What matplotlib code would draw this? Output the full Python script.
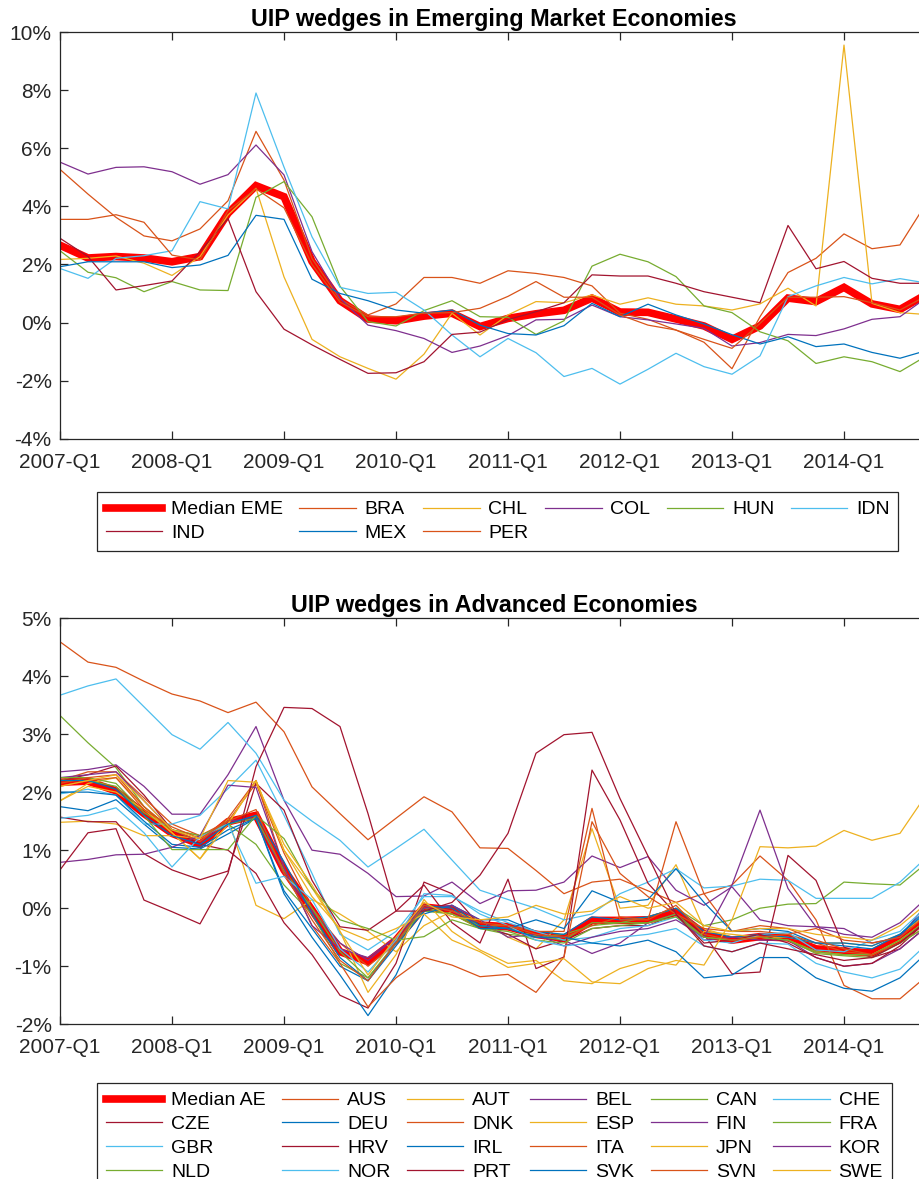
import numpy as np
import matplotlib as mpl
import matplotlib.pyplot as plt

mpl.rcParams.update({
    'font.family': ['Liberation Sans', 'DejaVu Sans'],
    'font.size': 14,
    'axes.linewidth': 0.9,
    'axes.edgecolor': '#262626',
    'xtick.color': '#262626',
    'ytick.color': '#262626',
})

# quarters 2007-Q1 ... 2014-Q4
xlabels = ['2007-Q1', '2008-Q1', '2009-Q1', '2010-Q1', '2011-Q1', '2012-Q1', '2013-Q1', '2014-Q1']

# ---- Emerging market economies (% per quarter) ----
median_eme = [2.66, 2.22, 2.27, 2.22, 2.09, 2.27, 3.76, 4.71, 4.33, 2.10, 0.75, 0.12, 0.06, 0.22, 0.32, -0.14,
              0.14, 0.30, 0.42, 0.84, 0.36, 0.35, 0.12, -0.12, -0.58, -0.12, 0.84, 0.72, 1.21, 0.64, 0.45, 1.00]
eme_names = ['BRA', 'CHL', 'COL', 'HUN', 'IDN', 'IND', 'MEX', 'PER']
BRA = [5.27, 4.42, 3.62, 2.98, 2.81, 3.22, 4.19, 6.58, 4.90, 2.20, 0.80, 0.26, 0.64, 1.55, 1.55, 1.35,
       1.78, 1.69, 1.55, 1.26, 0.32, 0.11, -0.26, -0.68, -1.59, 0.20, 1.72, 2.21, 3.05, 2.54, 2.67, 4.20]
CHL = [2.17, 2.21, 2.29, 2.04, 1.62, 2.27, 3.70, 4.62, 1.57, -0.58, -1.18, -1.58, -1.95, -1.09, 0.32, -0.43,
       0.26, 0.72, 0.68, 0.95, 0.63, 0.85, 0.63, 0.57, 0.43, 0.64, 1.18, 0.57, 9.55, 0.66, 0.34, 0.27]
COL = [5.52, 5.11, 5.34, 5.36, 5.19, 4.76, 5.09, 6.11, 5.08, 2.44, 0.83, -0.09, -0.28, -0.55, -1.03, -0.81,
       -0.45, 0.09, 0.11, 0.60, 0.20, 0.09, -0.05, -0.20, -0.81, -0.69, -0.41, -0.45, -0.22, 0.11, 0.20, 0.89]
HUN = [2.47, 1.73, 1.54, 1.06, 1.41, 1.12, 1.10, 4.31, 4.85, 3.64, 1.25, 0.03, -0.12, 0.41, 0.75, 0.20,
       0.18, -0.41, 0.06, 1.94, 2.35, 2.09, 1.58, 0.57, 0.34, -0.32, -0.63, -1.41, -1.18, -1.35, -1.69, -1.12]
IDN = [1.86, 1.52, 2.21, 2.30, 2.47, 4.16, 3.91, 7.90, 5.35, 2.95, 1.21, 1.00, 1.04, 0.43, -0.43, -1.18,
       -0.55, -1.04, -1.86, -1.58, -2.12, -1.61, -1.06, -1.52, -1.78, -1.15, 0.89, 1.26, 1.55, 1.33, 1.51, 1.35]
IND = [2.90, 2.27, 1.12, 1.27, 1.43, 2.44, 3.58, 1.06, -0.23, -0.77, -1.27, -1.75, -1.73, -1.35, -0.41, -0.33,
       0.10, 0.37, 0.68, 1.64, 1.60, 1.60, 1.35, 1.06, 0.87, 0.68, 3.34, 1.85, 2.10, 1.52, 1.35, 1.35]
MEX = [1.92, 2.09, 2.09, 2.09, 1.89, 1.98, 2.31, 3.69, 3.55, 1.49, 1.00, 0.75, 0.43, 0.32, 0.43, -0.09,
       -0.38, -0.43, -0.11, 0.66, 0.20, 0.63, 0.26, -0.05, -0.42, -0.74, -0.49, -0.83, -0.74, -1.03, -1.23, -0.95]
PER = [3.55, 3.55, 3.71, 3.45, 2.32, 2.15, 3.85, 4.60, 3.95, 2.00, 0.70, 0.20, 0.20, 0.32, 0.34, 0.49,
       0.90, 1.41, 0.87, 0.87, 0.26, -0.09, -0.26, -0.58, -0.89, -0.03, 0.87, 0.87, 0.89, 0.68, 0.43, 0.95]
eme_series = [BRA, CHL, COL, HUN, IDN, IND, MEX, PER]

# ---- Advanced economies ----
median_ae = [2.17, 2.19, 2.02, 1.63, 1.29, 1.10, 1.49, 1.60, 0.66, -0.03, -0.75, -0.92, -0.55, 0.02, -0.03, -0.29,
             -0.32, -0.45, -0.52, -0.21, -0.21, -0.20, -0.07, -0.44, -0.55, -0.49, -0.51, -0.70, -0.74, -0.77, -0.52, -0.16]
ae_names = ['AUS', 'AUT', 'BEL', 'CAN', 'CHE', 'CZE', 'DEU', 'DNK', 'ESP', 'FIN', 'FRA', 'GBR',
            'HRV', 'IRL', 'ITA', 'JPN', 'KOR', 'NLD', 'NOR', 'PRT', 'SVK', 'SVN', 'SWE']
AUS = [4.59, 4.24, 4.15, 3.91, 3.69, 3.57, 3.37, 3.55, 3.04, 2.09, 1.63, 1.18, 1.55, 1.92, 1.66, 1.04,
       1.03, 0.65, 0.25, 0.45, 0.50, 0.30, 0.10, 0.25, 0.40, 0.90, 0.48, -0.20, -1.33, -1.56, -1.56, -1.15]
AUT = [1.85, 2.15, 2.25, 1.75, 1.30, 0.85, 1.55, 0.05, -0.18, 0.15, -0.10, -0.40, -0.75, -0.30, -0.05, -0.20,
       -0.50, -0.70, -0.20, 1.37, 0.00, 0.05, 0.75, -0.35, -0.50, -0.50, -0.50, -0.60, -0.60, -0.65, -0.45, -0.10]
BEL = [2.35, 2.39, 2.47, 2.10, 1.62, 1.62, 2.30, 3.13, 1.86, 1.00, 0.93, 0.60, 0.20, 0.21, 0.45, 0.08,
       0.30, 0.31, 0.45, 0.90, 0.70, 0.89, 0.31, 0.05, 0.37, -0.20, -0.30, -0.32, -0.35, -0.60, -0.50, 0.10]
CAN = [3.32, 2.85, 2.42, 1.75, 1.35, 1.25, 1.45, 1.10, 0.40, -0.10, -0.95, -1.20, -0.60, -0.05, -0.10, -0.35,
       -0.45, -0.50, -0.45, -0.30, -0.25, -0.15, 0.00, -0.30, -0.20, 0.00, 0.07, 0.08, 0.45, 0.42, 0.40, 0.80]
CHE = [3.67, 3.83, 3.95, 3.47, 2.99, 2.74, 3.20, 2.67, 1.86, 1.50, 1.17, 0.71, 1.03, 1.36, 0.83, 0.31,
       0.15, 0.00, -0.20, -0.10, 0.25, 0.45, 0.68, 0.35, 0.38, 0.50, 0.48, 0.17, 0.17, 0.17, 0.45, 0.90]
CZE = [2.20, 2.30, 2.45, 1.95, 1.35, 1.10, 1.00, 0.60, -0.25, -0.80, -1.50, -1.72, -0.95, 0.45, 0.25, -0.30,
       -0.45, -0.70, -0.55, -0.35, -0.30, -0.30, -0.10, -0.45, -1.13, -1.10, 0.91, 0.48, -0.67, -0.85, -0.70, -0.30]
DEU = [1.75, 1.68, 1.87, 1.45, 1.05, 1.02, 1.28, 1.55, 0.30, -0.35, -1.00, -1.25, -0.65, -0.05, 0.05, -0.20,
       -0.20, -0.40, -0.45, -0.15, -0.20, -0.15, 0.00, -0.40, -0.50, -0.45, -0.50, -0.60, -0.65, -0.70, -0.45, -0.05]
DNK = [2.20, 2.35, 2.35, 1.90, 1.45, 1.25, 1.50, 2.15, 0.95, 0.00, -0.60, -1.00, -0.60, 0.00, -0.10, -0.30,
       -0.30, -0.40, -0.40, 1.72, -0.20, -0.20, 1.49, 0.25, -0.40, -0.40, -0.45, -0.60, -0.75, -0.80, -0.55, -0.20]
ESP = [1.48, 1.50, 1.45, 1.25, 1.25, 1.20, 1.45, 2.20, 1.00, 0.35, -0.40, -1.45, -0.80, 0.15, -0.40, -0.72,
       -0.95, -0.90, -1.25, -1.30, -1.04, -0.90, -0.98, -0.40, -0.45, -0.50, -0.55, -0.75, -0.80, -0.80, -0.55, -0.20]
FIN = [2.25, 2.30, 2.35, 1.85, 1.35, 1.15, 1.50, 1.55, 0.60, -0.05, -0.60, -0.90, -0.50, 0.05, -0.05, -0.30,
       -0.35, -0.50, -0.55, -0.78, -0.60, -0.25, -0.10, -0.55, -0.50, -0.55, -0.55, -0.85, -1.00, -0.95, -0.70, -0.30]
FRA = [2.25, 2.25, 2.15, 1.65, 1.35, 1.25, 1.45, 1.55, 0.65, 0.00, -0.75, -1.20, -0.60, 0.00, -0.10, -0.30,
       -0.35, -0.48, -0.55, -0.25, -0.25, -0.25, -0.10, -0.50, -0.55, -0.50, -0.55, -0.75, -0.80, -0.80, -0.55, -0.20]
GBR = [1.97, 2.05, 1.95, 1.45, 1.45, 1.60, 2.06, 2.55, 1.60, 0.60, -0.45, -0.72, -0.40, 0.20, 0.20, -0.05,
       -0.25, -0.40, -0.55, -0.50, -0.35, -0.30, -0.15, -0.55, -0.60, -0.45, -0.42, -0.72, -0.75, -0.55, -0.40, 0.05]
HRV = [1.57, 1.49, 1.49, 0.94, 0.66, 0.49, 0.64, 2.15, 1.69, 0.48, -0.32, -0.38, -0.05, 0.40, -0.25, -0.60,
       0.50, -1.04, -0.84, 2.38, 1.52, 0.43, -0.10, -0.60, -0.55, -0.45, -0.60, -0.85, -1.00, -0.95, -0.65, -0.20]
IRL = [2.00, 2.00, 1.95, 1.50, 1.10, 1.05, 1.35, 1.55, 0.25, -0.50, -1.15, -1.85, -1.15, -0.10, 0.05, -0.30,
       -0.35, -0.20, -0.35, 0.30, 0.10, 0.15, 0.68, 0.10, -0.40, -0.35, -0.40, -0.60, -0.60, -0.65, -0.45, 0.00]
ITA = [2.15, 2.25, 2.30, 1.75, 1.35, 1.15, 1.55, 2.20, 0.70, -0.30, -0.95, -1.70, -1.20, -0.85, -0.98, -1.18,
       -1.14, -1.45, -0.84, 1.49, 0.60, 0.20, -0.10, -0.35, -0.40, -0.30, -0.35, -0.55, -0.70, -0.80, -0.60, -0.30]
JPN = [1.85, 2.10, 2.00, 1.70, 1.30, 0.85, 1.45, 2.20, 1.00, 0.20, -0.35, -0.55, -0.35, -0.10, -0.55, -0.75,
       -1.02, -0.95, -0.87, -1.27, -1.30, -1.04, -0.90, -0.98, -0.20, 1.06, 1.04, 1.07, 1.34, 1.17, 1.29, 2.00]
KOR = [0.79, 0.84, 0.92, 0.93, 1.05, 1.25, 2.12, 2.08, 0.70, -0.30, -0.70, -0.85, -0.50, 0.00, 0.05, -0.20,
       -0.50, -0.45, -0.65, -0.50, -0.40, -0.35, -0.20, -0.50, 0.40, 1.69, 0.34, -0.32, -0.45, -0.50, -0.25, 0.20]
NLD = [2.20, 2.20, 2.10, 1.60, 1.01, 1.01, 1.01, 1.60, 1.20, 0.35, -0.20, -0.35, -0.55, -0.49, -0.20, -0.35,
       -0.40, -0.55, -0.60, -0.35, -0.30, -0.25, -0.15, -0.50, -0.55, -0.50, -0.55, -0.78, -0.82, -0.85, -0.60, -0.30]
NOR = [1.55, 1.60, 1.73, 1.30, 0.71, 1.23, 1.45, 0.43, 0.55, 0.15, -0.70, -1.10, -0.55, 0.25, 0.22, -0.10,
       -0.30, -0.55, -0.65, -0.60, -0.50, -0.45, -0.35, -0.65, -0.75, -0.60, -0.62, -0.95, -1.10, -1.20, -1.05, -0.60]
PRT = [0.66, 1.30, 1.37, 0.14, -0.06, -0.27, 0.60, 2.44, 3.46, 3.44, 3.13, 1.63, -0.05, -0.05, 0.10, 0.57,
       1.29, 2.67, 2.99, 3.03, 1.89, 0.90, -0.10, -0.65, -0.75, -0.60, -0.70, -0.80, -0.90, -0.85, -0.60, -0.20]
SVK = [2.20, 2.20, 2.05, 1.60, 1.25, 1.10, 1.45, 1.60, 0.80, -0.10, -0.85, -1.25, -0.60, 0.05, 0.00, -0.35,
       -0.35, -0.50, -0.50, -0.60, -0.65, -0.55, -0.75, -1.20, -1.15, -0.85, -0.85, -1.20, -1.38, -1.43, -1.20, -0.75]
SVN = [2.10, 2.20, 2.25, 1.70, 1.40, 1.20, 1.50, 1.70, 0.60, -0.20, -0.90, -1.25, -0.60, 0.05, -0.05, -0.25,
       -0.30, -0.45, -0.50, -0.30, -0.15, -0.20, 0.05, -0.45, -0.55, -0.50, -0.45, -0.35, -0.55, -0.60, -0.50, -0.10]
SWE = [2.10, 2.20, 2.30, 1.85, 1.35, 1.20, 2.20, 2.17, 1.10, 0.40, -0.40, -1.15, -0.50, 0.10, -0.15, -0.20,
       -0.15, 0.05, -0.10, -0.05, 0.20, 0.00, 0.10, -0.30, -0.40, -0.35, -0.35, -0.45, -0.50, -0.55, -0.30, 0.10]
ae_series = [AUS, AUT, BEL, CAN, CHE, CZE, DEU, DNK, ESP, FIN, FRA, GBR,
             HRV, IRL, ITA, JPN, KOR, NLD, NOR, PRT, SVK, SVN, SWE]

# matlab default colour order; the median line uses up the first slot (blue)
matlab_colors = ['#0072BD', '#D95319', '#EDB120', '#7E2F8E', '#77AC30', '#4DBEEE', '#A2142F']


def panel(ax, median, med_label, names, series, ylims, yticks, title, leg_xy):
    x = np.arange(len(median))
    handles = []
    labels = []
    h, = ax.plot(x, median, color='red', lw=5.5, solid_joinstyle='miter')
    handles.append(h)
    labels.append(med_label)
    for k, (name, s) in enumerate(zip(names, series)):
        c = matlab_colors[(k + 1) % len(matlab_colors)]
        h, = ax.plot(np.arange(len(s)), s, color=c, lw=0.9)
        handles.append(h)
        labels.append(name)

    ax.set_xlim(0, 31)
    ax.set_ylim(*ylims)
    ax.set_xticks(np.arange(0, 29, 4))
    ax.set_xticklabels(xlabels)
    ax.set_yticks(yticks)
    ax.set_yticklabels([f'{v}%' for v in yticks])
    ax.tick_params(direction='in', length=6, width=0.9, top=True, right=True,
                   labelsize=15, labelcolor='#262626')
    ax.tick_params(axis='x', pad=10)
    ax.tick_params(axis='y', pad=6)
    ax.set_title(title, fontsize=16.8, fontweight='bold', pad=4)

    # matlab fills legend row by row, matplotlib column by column
    ncol = 6
    n = len(handles)
    nrows = int(np.ceil(n / ncol))
    order = [r * ncol + c for c in range(ncol) for r in range(nrows) if r * ncol + c < n]
    leg = ax.legend([handles[i] for i in order], [labels[i] for i in order],
                    ncol=ncol, loc='upper left', bbox_to_anchor=leg_xy,
                    bbox_transform=fig.transFigure, fontsize=14,
                    handlelength=2.9, handletextpad=0.45, columnspacing=0.85,
                    labelspacing=0.32, borderpad=0.45, borderaxespad=0,
                    fancybox=False, framealpha=1, edgecolor='#262626')
    leg.get_frame().set_linewidth(0.9)


fig = plt.figure(figsize=(9.2, 11.79), dpi=100)
W = 920.0
H = 1179.0
ax1 = fig.add_axes([60 / W, 1 - 438.7 / H, 868 / W, 406.7 / H])
ax2 = fig.add_axes([60 / W, 1 - 1024.3 / H, 868 / W, 406.3 / H])

panel(ax1, median_eme, 'Median EME', eme_names, eme_series, (-4, 10), list(range(-4, 11, 2)),
      'UIP wedges in Emerging Market Economies', (97 / W, 1 - 492 / H))
panel(ax2, median_ae, 'Median AE', ae_names, ae_series, (-2, 5), list(range(-2, 6)),
      'UIP wedges in Advanced Economies', (97 / W, 1 - 1083 / H))

fig.savefig('out.png', dpi=100)
